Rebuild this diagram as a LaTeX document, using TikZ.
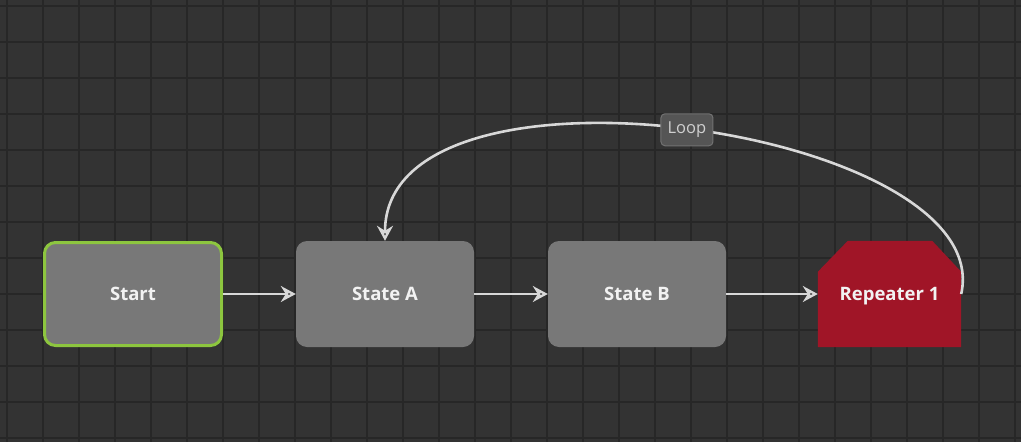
\documentclass[tikz,border=0pt]{standalone}
\usepackage{fontspec}
\setmainfont{Open Sans}
\usetikzlibrary{arrows.meta}
\definecolor{bgc}{HTML}{333333}
\definecolor{gridc}{HTML}{272727}
\definecolor{nodec}{HTML}{787878}
\definecolor{startc}{HTML}{8DC63F}
\definecolor{repc}{HTML}{A01527}
\definecolor{arrc}{HTML}{D8D8D8}
\definecolor{txtc}{HTML}{F2F2F2}
\definecolor{lblfill}{HTML}{555555}
\definecolor{lbldraw}{HTML}{727272}
\definecolor{lbltxt}{HTML}{D0D0D0}
\tikzset{
  statebox/.style={rectangle, rounded corners=11pt, fill=nodec, minimum width=178pt, minimum height=106pt, inner sep=0pt, text height=13.2pt, text depth=0pt, text=txtc, font=\fontsize{18.5}{22}\selectfont\bfseries},
  startbox/.style={statebox, draw=startc, line width=3pt, minimum width=177pt, minimum height=103pt},
  repbox/.style={rectangle, minimum width=143pt, minimum height=106pt, inner sep=0pt, text height=13.2pt, text depth=0pt, text=txtc, font=\fontsize{18.5}{22}\selectfont\bfseries},
  conn/.style={draw=arrc, line width=2.6pt, -{Stealth[open, length=15pt, width=16pt, inset=5pt, line width=2.4pt]}},
  lbl/.style={rectangle, rounded corners=4pt, fill=lblfill, draw=lbldraw, line width=1pt, text=lbltxt, minimum width=52pt, minimum height=32pt, inner sep=2pt, font=\fontsize{16.5}{19}\selectfont}
}
\begin{document}
\begin{tikzpicture}[x=1pt,y=-1pt]
\fill[bgc] (0,0) rectangle (1021,442);
\useasboundingbox (0,0) rectangle (1021,442);
\foreach \i in {0,...,28} {
  \draw[gridc, line width=2.2pt] ({7+36*\i},0) -- ({7+36*\i},442);
}
\foreach \j in {0,...,12} {
  \draw[gridc, line width=2.2pt] (0,{6+36*\j}) -- (1021,{6+36*\j});
}
\node[startbox] (start) at (133,294) {Start};
\node[statebox] (a) at (385,294) {State A};
\node[statebox] (b) at (637,294) {State B};
\node[repbox] (rep) at (889.5,294) {};
\fill[repc] (rep.south west) -- ([yshift=-31pt]rep.north west) -- ([xshift=30pt]rep.north west) -- ([xshift=-29pt]rep.north east) -- ([yshift=-31pt]rep.north east) -- (rep.south east) -- cycle;
\node[repbox] (replabel) at (rep.center) {Repeater 1};
\draw[conn] (start.east) -- (a.west);
\draw[conn] (a.east) -- (b.west);
\draw[conn] (b.east) -- (rep.west);
\draw[conn] (rep.east) .. controls +(37,-166) and +(0,-201) .. node[lbl, pos=0.5] (loop) {Loop} (a.north);
\end{tikzpicture}
\end{document}
